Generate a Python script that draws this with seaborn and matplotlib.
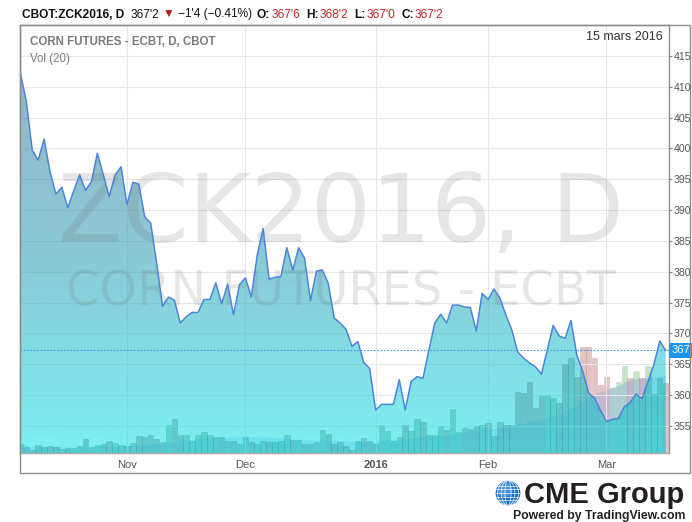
import numpy as np
import pandas as pd
import matplotlib
matplotlib.use("Agg")
import matplotlib.pyplot as plt
import matplotlib.transforms as mtransforms
from matplotlib.patches import Rectangle, Circle, Ellipse
import seaborn as sns

# ---- data ----
close = [
    412.2, 407.6, 399.7, 398.1, 401.5, 396.2, 392.6, 393.7, 390.4, 393.1,
    395.7, 393.2, 394.6, 399.2, 395.7, 392.2, 395.7, 397.0, 390.9, 394.5,
    394.2, 388.9, 387.9, 381.5, 374.4, 375.9, 375.4, 371.7, 372.7, 373.4,
    373.4, 375.5, 375.5, 378.2, 374.8, 378.0, 373.0, 377.9, 379.0, 375.9,
    382.7, 387.0, 378.8, 379.1, 379.2, 383.9, 380.3, 383.9, 382.2, 375.3,
    380.1, 380.3, 378.1, 372.5, 371.7, 370.7, 367.9, 368.7, 365.3, 364.3,
    357.6, 358.5, 358.5, 358.5, 362.5, 357.6, 362.2, 363.0, 362.7, 367.3,
    371.7, 373.1, 371.7, 374.6, 374.6, 374.3, 374.2, 370.4, 376.5, 375.5,
    377.2, 375.7, 373.0, 370.6, 367.0, 366.0, 365.2, 364.6, 363.4, 367.3,
    371.3, 369.6, 369.2, 372.1, 366.5, 363.8, 360.3, 359.5, 357.5, 355.7,
    356.1, 356.2, 358.1, 358.8, 360.2, 359.4, 362.2, 364.9, 368.75, 367.25,
]

# volume, thousands of contracts
volume = [
    9.3, 5.7, 3.3, 8.3, 6.3, 7.3, 5.7, 3.7, 5.0, 4.7,
    7.3, 13.7, 5.7, 8.3, 9.0, 12.3, 10.3, 8.3, 7.3, 10.0,
    16.7, 15.7, 17.7, 14.3, 11.3, 28.3, 34.3, 18.3, 17.7, 11.7,
    17.7, 21.0, 17.7, 15.7, 15.7, 11.7, 11.7, 9.3, 15.7, 10.7,
    9.3, 11.7, 10.7, 10.7, 11.7, 18.3, 13.0, 13.0, 9.0, 9.0,
    11.0, 22.7, 19.0, 9.3, 11.0, 7.3, 3.3, 11.7, 15.0, 11.7,
    9.3, 27.7, 21.7, 12.3, 15.7, 28.3, 22.3, 34.3, 30.7, 18.3,
    17.7, 26.7, 23.3, 43.7, 21.0, 25.0, 24.3, 26.7, 27.7, 30.0,
    16.7, 31.0, 27.7, 28.0, 60.7, 59.7, 70.7, 44.7, 57.3, 58.0,
    54.7, 49.7, 88.7, 94.7, 75.7, 105.7, 105.7, 94.7, 68.0, 76.3,
    64.7, 70.7, 87.0, 75.3, 82.0, 75.3, 87.3, 59.0, 75.3, 70.0,
]

# u = up day (green volume), d = down day (red volume)
vol_dir = ("uddduddudu" "uduudduudu" "dddddudduu" "uuuududuud" "uuduuududd"
           "uudddddudd" "duuuuduudu" "uuduudddud" "uddddddddu" "uddudddddd"
           "uuududuuud")

holidays = ["2015-11-26", "2015-12-25", "2016-01-01", "2016-01-18", "2016-02-15"]
dates = pd.bdate_range("2015-10-07", "2016-03-15", freq="C", holidays=holidays)

month_labels = ["Nov", "Dec", "2016", "Feb", "Mar"]
price_ticks = list(range(355, 420, 5))
last_price = 367.25

df = pd.DataFrame({"date": dates, "close": close, "volume": volume, "dir": list(vol_dir)})
df["bar"] = np.arange(len(df))
df["vol_ma"] = df["volume"].rolling(20, min_periods=1).mean()
month_first = df.groupby(df["date"].dt.to_period("M")).head(1).iloc[1:]

# ---- figure ----
sns.set_theme(style="white")
plt.rcParams["font.family"] = ["Liberation Sans", "DejaVu Sans"]

W, H = 692, 522
fig = plt.figure(figsize=(W / 100, H / 100), dpi=100)
fig.patch.set_facecolor("white")


def fx(px):
    return px / W


def fy(py):
    return 1 - py / H


ax = fig.add_axes([fx(20), fy(453), (669 - 20) / W, (453 - 25) / H])
axv = ax.twinx()
axv.set_zorder(ax.get_zorder() - 1)
ax.patch.set_visible(False)
axv.patch.set_facecolor("white")

x_lo, x_hi = -0.07, 109.56
y_lo, y_hi = 350.62, 420.0

# volume bars + 20 MA (behind the price area)
up_col, dn_col = "#91c991", "#c98989"
bar_cols = [up_col if d == "u" else dn_col for d in df["dir"]]
axv.bar(df["bar"], df["volume"], width=0.92, color=bar_cols, alpha=0.5,
        edgecolor=bar_cols, linewidth=0.4)
axv.fill_between(df["bar"], df["vol_ma"], 0, color="#3c78f0", alpha=0.2, lw=0)
axv.set_ylim(0, 428)
axv.set_yticks([])
for s in axv.spines.values():
    s.set_visible(False)

# price area with vertical gradient
poly = ax.fill_between(df["bar"], df["close"], y_lo, facecolor="none", edgecolor="none")
area_path = poly.get_paths()[0]
stops_y = [y_lo, 383, y_hi]
stops_c = np.array([[37, 230, 233], [60, 165, 185], [80, 127, 155]]) / 255
ys = np.linspace(y_lo, y_hi, 256)
grad = np.stack([np.interp(ys, stops_y, stops_c[:, k]) for k in range(3)] + [np.full(256, 0.6)], axis=1)
img = ax.imshow(grad[:, None, :], extent=[x_lo, x_hi, y_lo, y_hi], origin="lower",
                aspect="auto", zorder=1, interpolation="bilinear")
img.set_clip_path(area_path, transform=ax.transData)

# volume bars seen through the area (darker teal)
shade = ax.bar(df["bar"], df["volume"], width=0.92, bottom=0, color="#0b7d8a", alpha=0.13,
               edgecolor="#0b7d8a", linewidth=0.5, transform=axv.transData, zorder=1.5)
for r in shade:
    r.set_clip_path(area_path, ax.transData)

# watermark
ax.text(fx(58), fy(242), "ZCK2016, D", transform=fig.transFigure, fontsize=68,
        family="DejaVu Sans", color="#707070", alpha=0.17, zorder=2, va="baseline")
ax.text(fx(66), fy(305), "CORN FUTURES - ECBT", transform=fig.transFigure, fontsize=34.5,
        family="DejaVu Sans", color="#707070", alpha=0.17, zorder=2, va="baseline")

sns.lineplot(x=df["bar"], y=df["close"], ax=ax, color="#4d84dc", lw=1.1, zorder=4)
ax.axhline(last_price, color="#3f9cf0", ls=(0, (1.5, 1.5)), lw=0.8, zorder=3)

ax.set_xlim(x_lo, x_hi)
ax.set_ylim(y_lo, y_hi)
ax.set_xlabel("")
ax.set_ylabel("")

ax.grid(True, color="#e6e6e6", lw=0.8)
ax.set_axisbelow(True)
ax.yaxis.tick_right()
ax.set_yticks(price_ticks)
ax.set_yticklabels([str(p) for p in price_ticks])
ax.tick_params(axis="y", direction="out", length=2.5, width=0.8, color="#888888",
               labelsize=7.6, labelcolor="#555555", pad=0.6)
ax.set_xticks(month_first["bar"].tolist())
ax.set_xticklabels(month_labels)
ax.tick_params(axis="x", direction="out", length=2, width=0.8, color="#888888",
               labelsize=8, labelcolor="#555555", pad=3)
ax.get_xticklabels()[2].set_fontweight("bold")

for side, c in [("left", "#8c8c8c"), ("top", "#8c8c8c"), ("right", "#8c8c8c"), ("bottom", "#aaaaaa")]:
    ax.spines[side].set_color(c)
    ax.spines[side].set_linewidth(1)

# last price tag
tag_tr = mtransforms.blended_transform_factory(fig.transFigure, ax.transData)
ax.text(fx(671.5), last_price, "367", transform=tag_tr, ha="left", va="center",
        color="white", fontsize=8, zorder=10, clip_on=False,
        bbox=dict(boxstyle="square,pad=0.2", fc="#1e96f0", ec="none"))

# outer frame
fig.add_artist(Rectangle((fx(20), fy(473)), (690 - 20) / W, (473 - 25) / H,
                         transform=fig.transFigure, fill=False, ec="#8c8c8c", lw=1))

# texts
fig.text(fx(30), fy(42), "CORN FUTURES - ECBT, D, CBOT", fontsize=8.3, fontweight="bold",
         color="#7a7a7a", va="center")
fig.text(fx(30), fy(59), "Vol (20)", fontsize=8.3, color="#7a7a7a", va="center")
fig.text(fx(663), fy(37), "15 mars 2016", fontsize=9, color="#333333", ha="right", va="center")

red = "#c62828"
header_parts = [
    (0, "CBOT:ZCK2016, D", "#111111", "bold"),
    (6, "367'2", "#111111", "normal"),
    (4, "▼", "#b71c1c", "normal"),
    (3, "\u22121'4 (\u22120.41%)", "#111111", "normal"),
    (5, "O:", "#111111", "bold"),
    (1, "367'6", red, "normal"),
    (6, "H:", "#111111", "bold"),
    (1, "368'2", red, "normal"),
    (6, "L:", "#111111", "bold"),
    (1, "367'0", red, "normal"),
    (6, "C:", "#111111", "bold"),
    (1, "367'2", red, "normal"),
]
fig.canvas.draw()
renderer = fig.canvas.get_renderer()
xpos = 22
for gap, s, col, wt in header_parts:
    xpos += gap
    t = fig.text(fx(xpos), fy(17.5), s, color=col, fontweight=wt, fontsize=8.6, va="baseline")
    xpos = t.get_window_extent(renderer).x1

# CME Group logo
gax = fig.add_axes([fx(495), fy(506), 26 / W, 26 / H])
gax.set_xlim(-1.05, 1.05)
gax.set_ylim(-1.05, 1.05)
gax.set_aspect("equal")
gax.axis("off")
globe = Circle((0, 0), 1, fc="#1b6fc2", ec="none")
gax.add_patch(globe)
gax.add_patch(Circle((-0.25, 0.25), 0.6, fc="#5aa9ec", ec="none", alpha=0.6, clip_path=globe))
for w in [0.5, 1.1, 1.7]:
    e = Ellipse((0, 0), w, 2, fill=False, ec="white", lw=0.6, alpha=0.8)
    gax.add_patch(e)
    e.set_clip_path(globe)
for yy in [-0.6, -0.3, 0, 0.3, 0.6]:
    ln, = gax.plot([-1, 1], [yy, yy], color="white", lw=0.6, alpha=0.8)
    ln.set_clip_path(globe)

fig.text(fx(524), fy(503), "CME Group", fontsize=21, fontweight="bold", color="#231f20",
         va="baseline")
fig.text(fx(685), fy(519), "Powered by TradingView.com", fontsize=8.8, fontweight="bold",
         color="#222222", ha="right", va="baseline")

fig.savefig("out.png", dpi=100)
